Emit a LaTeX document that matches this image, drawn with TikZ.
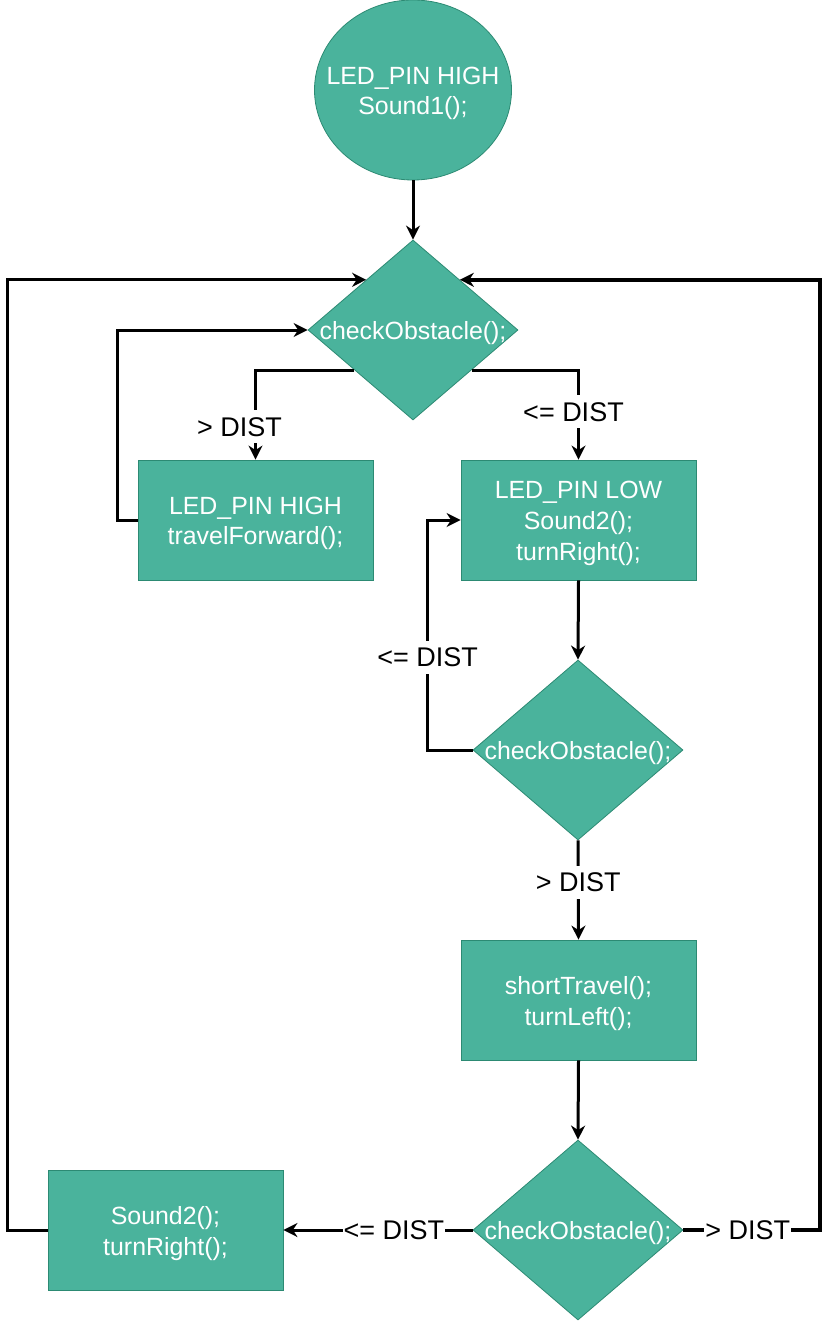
\documentclass[tikz,border=0pt]{standalone}
\usepackage{fontspec}
\setmainfont{Liberation Sans}
\usetikzlibrary{shapes.geometric,arrows.meta,calc}
\definecolor{tealfill}{HTML}{4AB39C}
\definecolor{tealline}{HTML}{2C8A73}
\begin{document}
\begin{tikzpicture}[x=1pt,y=-1pt,
  ntext/.style={text=white,align=center,font=\fontsize{24.9}{30.7}\selectfont,inner sep=0pt,yshift=-3.5pt},
  box/.style={rectangle,draw=tealline,fill=tealfill,line width=0.8pt,minimum width=235pt,minimum height=120pt,inner sep=0pt},
  dia/.style={diamond,draw=tealline,fill=tealfill,line width=0.8pt,minimum width=210pt,minimum height=180pt,inner sep=0pt},
  oval/.style={ellipse,draw=tealline,fill=tealfill,line width=0.8pt,minimum width=197pt,minimum height=180pt,inner sep=0pt},
  arr/.style={line width=3pt,-{Stealth[length=14pt,width=14pt,inset=4.5pt]}},
  lbl/.style={fill=white,text=black,font=\fontsize{27}{32}\selectfont,inner xsep=1pt,inner ysep=7pt}
]
\useasboundingbox (0,0) rectangle (830,1321);

\node[oval,label={[ntext]center:{LED\_PIN HIGH\\Sound1();}}] (e) at (413,90) {};
\node[dia,label={[ntext]center:{checkObstacle();}}] (d1) at (413,330) {};
\node[box,label={[ntext]center:{LED\_PIN HIGH\\travelForward();}}] (b1) at (255.5,520) {};
\node[box,label={[ntext]center:{LED\_PIN LOW\\Sound2();\\turnRight();}}] (b2) at (578.5,520) {};
\node[dia,label={[ntext]center:{checkObstacle();}}] (d2) at (578,750) {};
\node[box,label={[ntext]center:{shortTravel();\\turnLeft();}}] (b3) at (578.5,1000) {};
\node[dia,label={[ntext]center:{checkObstacle();}}] (d3) at (578,1230) {};
\node[box,label={[ntext]center:{Sound2();\\turnRight();}}] (b4) at (165.5,1230) {};

\draw[arr] (e.south) -- (d1.north);
\draw[arr] ($(d1.south)!0.5556!(d1.west)$) -| node[lbl,pos=0.817,xshift=-16pt]{> DIST} (b1.north);
\draw[arr] ($(d1.south)!0.5556!(d1.east)$) -| node[lbl,pos=0.733,xshift=-5pt]{<= DIST} (b2.north);
\draw[arr] (b1.west) -- ++(-20,0) |- (d1.west);
\draw[arr] (b2.south) -- (d2.north);
\draw[arr] (d2.west) -- ++(-45,0) |- node[lbl,pos=0.202]{<= DIST} (b2.west);
\draw[arr] (d2.south) -- node[lbl,pos=0.42]{> DIST} (b3.north);
\draw[arr] (b3.south) -- (d3.north);
\draw[arr] (d3.west) -- node[lbl,pos=0.416]{<= DIST} (b4.east);
\draw[arr] (b4.west) -- ++(-40,0) |- ($(d1.north)!0.4444!(d1.west)$);
\draw[arr,line width=4pt] (d3.east) -- node[lbl,pos=0.47]{> DIST} ++(137,0) |- ($(d1.north)!0.4444!(d1.east)$);
\end{tikzpicture}
\end{document}
